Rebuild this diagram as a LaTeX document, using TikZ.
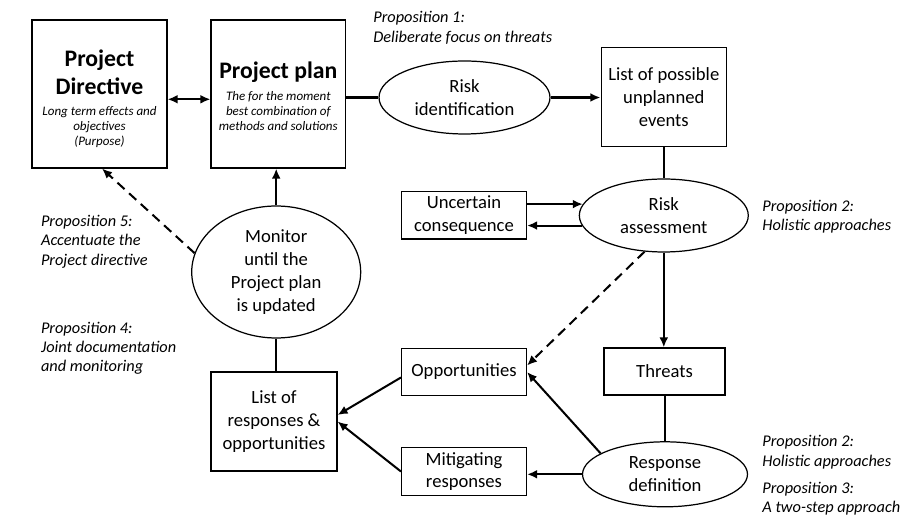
\documentclass[tikz,border=0pt]{standalone}
\usepackage{fontspec}
\setmainfont{Carlito}
\usetikzlibrary{shapes,arrows.meta}
\tikzstyle{mybox} = [draw=black, line width=0.65pt, rectangle, inner sep=0pt,
    align=center, font=\fontsize{10.6}{13}\selectfont]
\tikzstyle{bigbox} = [draw=black, line width=0.65pt, rectangle, inner sep=0pt,
    minimum width=2.7cm, minimum height=2.96cm]
\tikzstyle{myellipse} = [draw=black, line width=0.7pt, ellipse, inner sep=0pt,
    align=center, font=\fontsize{10.6}{13}\selectfont]
\tikzstyle{proptext} = [anchor=west, align=left, inner sep=0pt,
    font=\fontsize{9.3}{11}\selectfont\itshape]
\tikzstyle{link} = [line width=1.15pt]
\tikzstyle{flow} = [link, ->]
\tikzstyle{dashflow} = [link, ->, dash pattern=on 5.5pt off 3.5pt]
\newcommand{\projtitle}{\fontsize{13.5}{16}\selectfont\bfseries}
\newcommand{\projsub}{\fontsize{7.4}{8.5}\selectfont\itshape}

\begin{document}
\begin{tikzpicture}[x=0.02cm, y=-0.02cm, >={Latex[length=5.7pt,width=5pt]}]
\useasboundingbox (0,0) rectangle (915,519);

\node[bigbox] (directive) at (99.5,94) {\parbox{2.6cm}{\centering\vspace*{5pt}
    {\projtitle Project\\Directive\par}\vspace{3.3pt}
    {\projsub Long term effects and\\objectives\\(Purpose)\par}}};
\node[bigbox, minimum width=2.69cm] (plan) at (278.3,94) {\parbox{2.6cm}{\centering\vspace*{2.3pt}
    {\projtitle Project plan\par}\vspace{4.1pt}
    {\projsub The for the moment\\best combination of\\methods and solutions\par}}};
\node[myellipse, minimum width=3.42cm, minimum height=1.46cm] (riskid) at (464.5,97.5) {Risk\\identification};
\node[mybox, minimum width=2.51cm, minimum height=1.98cm] (events) at (663.8,97.2) {List of possible\\unplanned\\events};
\node[myellipse, minimum width=3.38cm, minimum height=1.46cm] (riskass) at (663.8,215.5) {Risk\\assessment};
\node[mybox, minimum width=2.5cm, minimum height=0.95cm] (uncertain) at (464,215.3) {Uncertain\\consequence};
\node[mybox, minimum width=2.42cm, minimum height=0.94cm] (threats) at (664.5,371.5) {Threats};
\node[mybox, minimum width=2.5cm, minimum height=0.94cm] (opportunities) at (464,372) {Opportunities};
\node[myellipse, minimum width=3.3cm, minimum height=1.3cm] (response) at (665,474.3) {Response\\definition};
\node[mybox, minimum width=2.5cm, minimum height=0.96cm] (mitigating) at (464,471.5) {Mitigating\\responses};
\node[mybox, minimum width=2.52cm, minimum height=1.98cm] (responses) at (274,421.5) {List of\\responses \&\\opportunities};
\node[myellipse, minimum width=3.38cm, minimum height=2.64cm] (monitor) at (276.2,272) {Monitor\\until the\\Project plan\\is updated};

\node[proptext] (propone) at (373,27.8) {Proposition 1:\\Deliberate focus on threats};
\node[proptext] (proptwoa) at (762,216.4) {Proposition 2:\\Holistic approaches};
\node[proptext] (propfive) at (40.7,241.7) {Proposition 5:\\Accentuate the\\Project directive};
\node[proptext] (propfour) at (40.7,348.3) {Proposition 4:\\Joint documentation\\and monitoring};
\node[proptext] (proptwob) at (762,452.2) {Proposition 2:\\Holistic approaches};
\node[proptext] (propthree) at (762,499) {Proposition 3:\\A two-step approach};

\draw[link, <->] ([yshift=-0.106cm]directive.east) -- ([yshift=-0.106cm]plan.west);
\draw[link] (riskid.west -| plan.east) -- (riskid.west);
\draw[flow] (riskid.east) -- (riskid.east -| events.west);
\draw[link] (events.south) -- (riskass.north);
\draw[flow] (uncertain.east |- riskass.172) -- (riskass.172);
\draw[flow] (riskass.187) -- (riskass.187 -| uncertain.east);
\draw[flow] (riskass.south) -- (riskass.south |- threats.north);
\draw[dashflow] (riskass.242) -- ([yshift=0.13cm]opportunities.east);
\draw[link] (threats.south) -- (threats.south |- response.north);
\draw[flow] (response.162) -- (opportunities.east);
\draw[flow] (response.west) -- (response.west -| mitigating.east);
\draw[flow] ([yshift=-0.11cm]opportunities.west) -- ([yshift=0.13cm]responses.east);
\draw[flow] (mitigating.west) -- (responses.east);
\draw[link] (monitor.south) -- (monitor.south |- responses.north);
\draw[flow] (monitor.north) -- (monitor.north |- plan.south);
\draw[dashflow] (monitor.167) -- ([xshift=0.05cm]directive.south);
\end{tikzpicture}
\end{document}
